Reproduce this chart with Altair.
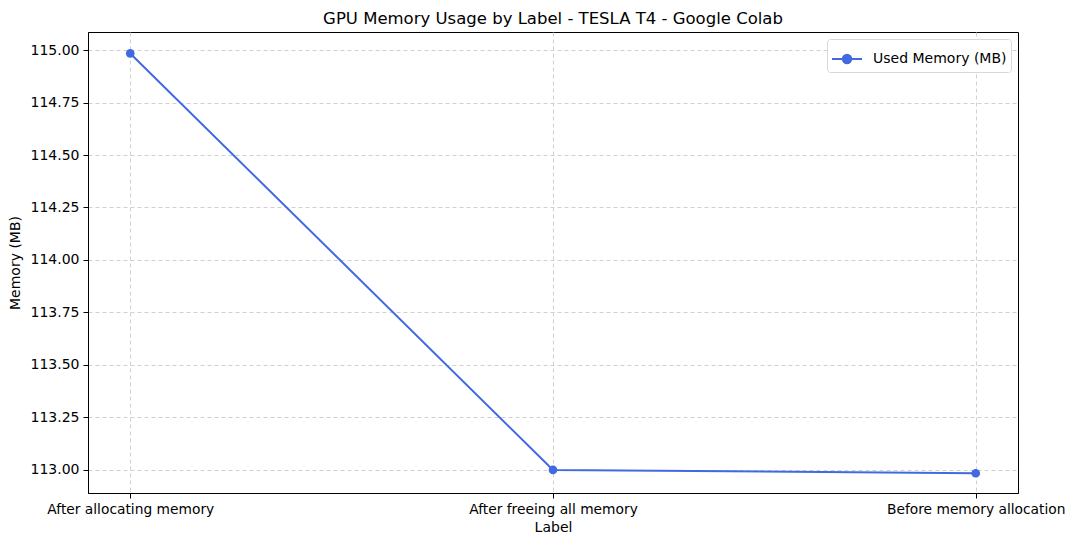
import altair as alt
import pandas as pd

labels = ["After allocating memory", "After freeing all memory", "Before memory allocation"]
used_mb = [114.984, 113.0, 112.984]
series = ["Used Memory (MB)"] * 3
y_ticks = [113.0, 113.25, 113.5, 113.75, 114.0, 114.25, 114.5, 114.75, 115.0]

df = pd.DataFrame({"Label": labels, "Memory": used_mb, "Series": series})

FONT = "DejaVu Sans"
BLUE = "#4169E1"

legend_symbol = "M-1,0L1,0M-0.28,0A0.28,0.28 0 1,0 0.28,0A0.28,0.28 0 1,0 -0.28,0Z"

base = alt.Chart(df).encode(
    x=alt.X("Label:N", sort=labels,
            scale=alt.Scale(type="point", padding=0.1),
            axis=alt.Axis(title="Label", labelAngle=0, grid=True, gridDash=[4, 3],
                          gridColor="#d0d0d0", tickSize=5, labelPadding=4, labelLimit=400,
                          labelOverlap=False, labelFontSize=13.8,
                          titlePadding=5, domainColor="black", tickColor="black")),
    y=alt.Y("Memory:Q",
            scale=alt.Scale(domain=[112.89, 115.086], zero=False, nice=False),
            axis=alt.Axis(title="Memory (MB)", values=y_ticks, format=".2f", grid=True,
                          gridDash=[4, 3], gridColor="#d0d0d0", tickSize=5, labelPadding=4,
                          titlePadding=8, domainColor="black", tickColor="black")),
    color=alt.Color("Series:N", scale=alt.Scale(range=[BLUE]),
                    legend=alt.Legend(title=None, orient="top-right", symbolType=legend_symbol,
                                      symbolSize=900, symbolStrokeWidth=2,
                                      symbolFillColor=BLUE, symbolStrokeColor=BLUE,
                                      labelFontSize=14, labelFont=FONT, labelOffset=10,
                                      strokeColor="#d8d8d8", fillColor="white",
                                      cornerRadius=3, padding=4, offset=7)),
)

line = base.mark_line(strokeWidth=2)
pts = base.mark_circle(size=75, opacity=1)

chart = (line + pts).properties(
    width=930, height=461,
    title=alt.Title("GPU Memory Usage by Label - TESLA T4 - Google Colab",
                    font=FONT, fontSize=16.5, fontWeight="normal", offset=5),
    autosize=alt.AutoSizeParams(type="none"),
    padding={"left": 80, "top": 24, "right": 49, "bottom": 46},
).configure_view(stroke="black", strokeWidth=1).configure_axis(
    labelFont=FONT, titleFont=FONT, labelFontSize=14, titleFontSize=14,
    titleFontWeight="normal", labelColor="black", titleColor="black"
)

chart.save("out.html", embed_options={"renderer": "svg", "actions": False})
